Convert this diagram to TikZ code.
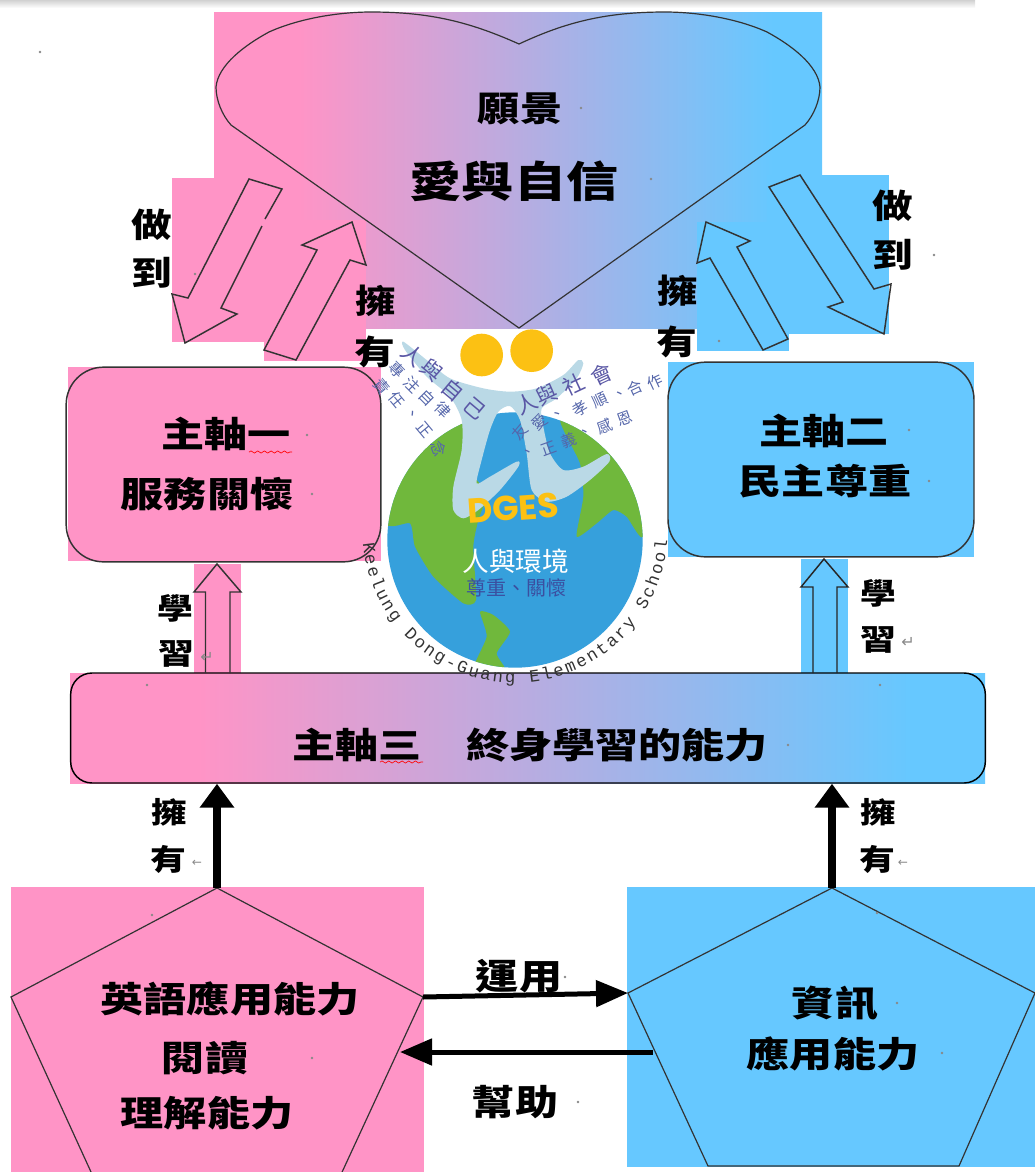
\documentclass[tikz,border=0pt]{standalone}
\usepackage{fontspec}
\usetikzlibrary{arrows.meta,decorations.text,decorations.pathmorphing,shadings}
\newfontfamily\tcr{Noto Sans CJK TC}
\newcommand\tcb{\tcr\bfseries}
\newfontfamily\monof{Liberation Mono}
\newfontfamily\popr{Poppins}
\newcommand\popb{\popr\bfseries}
\newfontfamily\djv{DejaVu Sans}
\definecolor{pk}{HTML}{FF94C6}
\definecolor{bl}{HTML}{66C8FF}
\definecolor{ln}{HTML}{333333}
\definecolor{earth}{HTML}{36A0DC}
\definecolor{land}{HTML}{70B83C}
\definecolor{person}{HTML}{BAD9E6}
\definecolor{gold}{HTML}{FCC113}
\definecolor{lgp}{HTML}{5A57A5}
\definecolor{lgb}{HTML}{5566AA}
\definecolor{lgd}{HTML}{3B4FA0}
\definecolor{mk}{HTML}{888888}
\pgfdeclarehorizontalshading{pkbl}{100bp}{color(0bp)=(pk); color(32bp)=(pk); color(71bp)=(bl); color(100bp)=(bl)}
\tikzset{
  lb/.style={inner sep=0pt,text=black,xscale=1.22,transform shape,font=\fontsize{#1pt}{#1pt}\tcb},
  outl/.style={draw=ln,line width=1.1pt,line join=miter},
  vthick/.style={line width=6pt,-{Triangle[length=18pt,width=25pt]},black},
  hthick/.style={line width=3.75pt,-{Triangle[length=24pt,width=19.5pt]},black},
  edmark/.style={inner sep=0pt,text=mk,font=\fontsize{12pt}{12pt}\djv},
  lgA/.style={inner sep=0pt,text=lgp,font=\fontsize{16pt}{16pt}\tcr},
  lgB/.style={inner sep=0pt,text=lgb,font=\fontsize{11.5pt}{11.5pt}\tcr},
  wav/.style={draw=red,line width=.5pt,decorate,decoration={snake,segment length=5pt,amplitude=.8pt}},
}
\begin{document}
\begin{tikzpicture}[x=.75pt,y=-.75pt]
\useasboundingbox (0,0) rectangle (1035,1172);
\begin{scope}
\clip (0,0) rectangle (1035,1172);
% top shadow
\shade[top color=black!18,bottom color=white] (0,0) rectangle (975,8);
% backgrounds
\fill[shading=pkbl] (214,12) rectangle (822,328);
\fill[pk] (172,178) rectangle (297,342);
\fill[pk] (264,220) rectangle (366,361);
\fill[bl] (697,222) rectangle (789,351);
\fill[bl] (767,175) rectangle (889,334);
\fill[pk] (68,367) rectangle (381,561);
\fill[bl] (668,362) rectangle (974,557);
\fill[pk] (194,564) rectangle (241,673);
\fill[bl] (801,559) rectangle (848,673);
\fill[shading=pkbl] (70,673) rectangle (985,783);
\fill[pk] (11,887) rectangle (424,1172);
\fill[bl] (627,887) rectangle (1035,1167);
% heart
\draw[draw=ln,line width=.9pt] (519,328) -- (231,125)
  .. controls (222,115) and (216,100) .. (216,87)
  .. controls (218,65) and (245,45) .. (269,32)
  .. controls (300,18) and (340,12) .. (371,12)
  .. controls (430,12) and (470,22) .. (519,44)
  .. controls (566,22) and (606,12) .. (665,12)
  .. controls (696,12) and (736,18) .. (767,32)
  .. controls (791,45) and (818,65) .. (820,87)
  .. controls (820,100) and (814,115) .. (805,125) -- cycle;
% diagonal outline arrows
\draw[outl] (265,219) -- (282,189) -- (249,179) -- (188,298) -- (172,294) -- (185,343) -- (237,314) -- (221,308) -- (262,226);
\draw[outl] (264,350) -- (296,360) -- (350,260) -- (366,265) -- (352,222) -- (302,245) -- (317,250) -- cycle;
\draw[outl] (763,350) -- (788,339) -- (737,247) -- (750,241) -- (706,222) -- (697,263) -- (710,258) -- cycle;
\draw[outl] (769,187) -- (800,175) -- (874,289) -- (891,284) -- (884,334) -- (828,307) -- (843,302) -- cycle;
% main boxes
\node[draw=ln,line width=1.1pt,rounded corners=28pt,minimum width=236pt,minimum height=146pt,inner sep=0pt] (axisA) at (223.5,464.5) {};
\node[draw=ln,line width=1.1pt,rounded corners=28pt,minimum width=229.5pt,minimum height=146pt,inner sep=0pt] (axisB) at (821,459.5) {};
\node[draw=black,line width=1.1pt,rounded corners=16pt,minimum width=686pt,minimum height=82.5pt,inner sep=0pt] (axisC) at (528,728) {};
% study arrows
\draw[outl] (205.5,673) -- (205.5,592) -- (194,592) -- (217,564) -- (241,592) -- (230,592) -- (230,673);
\draw[outl,draw=black!85] (813,673) -- (813,587) -- (801,587) -- (824,559) -- (848,587) -- (837,587) -- (837,673);
% pentagons
\coordinate (pkTop) at (217,888);
\coordinate (pkR) at (423,997);
\coordinate (pkH) at (400,1052);
\coordinate (blTop) at (832,888);
\coordinate (blL) at (628,993);
\coordinate (blH) at (653,1052);
\draw[draw=ln,line width=.9pt] (pkTop) -- (pkR) -- (331,1196) -- (102,1196) -- (11,997) -- cycle;
\draw[draw=ln,line width=.9pt] (blTop) -- (1035,993) -- (959,1166) -- (708,1166) -- (blL) -- cycle;
% connectors
\draw[vthick] (pkTop) -- (pkTop |- axisC.south);
\draw[vthick] (blTop) -- (blTop |- axisC.south);
\draw[hthick] (pkR) -- (blL);
\draw[hthick] (blH) -- (pkH);
% LOGO
\begin{scope}[shift={(350,320)},x=.25pt,y=-.25pt]
  \fill[earth] (495,660) circle[radius=383];
  \begin{scope}
    \clip (495,660) circle[radius=383];
    \fill[land] plot[smooth cycle,tension=.35] coordinates {(100,600)(180,610)(195,680)(250,770)(340,850)(378,840)(370,680)(385,600)(410,520)(360,450)(345,300)(100,200)};
    \fill[land] plot[smooth cycle,tension=.35] coordinates {(630,300)(690,430)(700,530)(680,650)(740,610)(790,570)(830,590)(880,650)(900,400)(700,250)};
    \fill[land] plot[smooth cycle,tension=.35] coordinates {(390,875)(430,885)(480,935)(440,1000)(465,1050)(370,1050)(410,950)};
  \end{scope}
  \fill[person] plot[smooth cycle,tension=.45] coordinates {(160,65)(230,120)(300,175)(400,205)(480,215)(560,205)(640,165)(685,120)(700,130)(680,175)(620,235)(575,265)(580,320)(600,400)(640,450)(700,440)(770,402)(778,425)(720,480)(650,530)(590,545)(545,510)(530,400)(510,300)(480,258)(445,275)(420,330)(395,420)(380,490)(420,470)(500,425)(505,440)(450,510)(385,570)(340,595)(310,570)(310,500)(335,390)(335,300)(300,230)(230,170)(165,90)};
  \fill[gold] (395,105) circle[radius=64];
  \fill[gold] (545,92) circle[radius=64];
  \node[inner sep=0pt,text=gold,rotate=4,font=\fontsize{26pt}{26pt}\popb] (dges) at (490,565) {DGES};
  \foreach \ch/\X/\Y/\R [count=\i] in {人/190/105/-40,與/245/150/-40,自/310/210/-40,己/375/265/-40,人/530/250/25,與/590/225/25,社/670/195/25,會/755/165/25}
    {\node[lgA,rotate=\R] (lgA\i) at (\X,\Y) {\ch};}
  \foreach \ch/\X/\Y/\R [count=\i] in {專/140/150/-45,注/185/195/-45,自/232/232/-45,律/278/270/-45,責/95/200/-50,任/140/240/-50,、/185/285/-50,正/225/330/-50,念/268/385/-70,友/510/335/50,愛/570/305/40,、/625/285/30,孝/690/265/30,順/750/240/25,、/810/225/20,合/855/205/25,作/915/185/25,、/535/400/20,正/595/385/20,義/655/360/20,、/705/340/20,感/765/320/20,恩/825/295/20}
    {\node[lgB,rotate=\R] (lgB\i) at (\X,\Y) {\ch};}
  \node[inner sep=0pt,text=white,font=\fontsize{20pt}{20pt}\tcr] (env) at (497,725) {人與環境};
  \node[inner sep=0pt,text=lgd,font=\fontsize{15pt}{15pt}\tcr] (envb) at (500,805) {尊重、關懷};
  \coordinate (ringc) at (495,630);
  \path[postaction={decorate,decoration={text along path,text align={fit to path},text={|\fontsize{13pt}{13pt}\monof\color{black!80}|Keelung Dong-Guang Elementary School}}}]
    (ringc) ++(185:114.5pt) arc[start angle=185,delta angle=171,radius=114.5pt];
\end{scope}
% labels
\node[lb=26] (t1) at (520,109) {願景};
\node[lb=32] (t2) at (514,181) {愛與自信};
\node[lb=25] (do1) at (152,225) {做};
\node[lb=25] (do2) at (152,273) {到};
\node[lb=25] (yo1) at (376,301) {擁};
\node[lb=25] (yo2) at (375,352) {有};
\node[lb=25] (do3) at (893,206) {做};
\node[lb=25] (do4) at (893,255) {到};
\node[lb=25] (yo3) at (678,291) {擁};
\node[lb=25] (yo4) at (677,342) {有};
\node[lb=26.5] (a1) at (226,434) {主軸一};
\node[lb=26.5] (a2) at (207,494) {服務關懷};
\node[lb=26.5] (b1) at (824,431) {主軸二};
\node[lb=26.5] (b2) at (825,481) {民主尊重};
\node[lb=22] (s1) at (175,608) {學};
\node[lb=22] (s2) at (176,654) {習};
\node[lb=22] (s3) at (878,593) {學};
\node[lb=22] (s4) at (878,640) {習};
\node[lb=26.5] (c1) at (357,745) {主軸三};
\node[lb=26.5] (c2) at (617,745) {終身學習的能力};
\node[lb=22] (h1) at (169,812) {擁};
\node[lb=22] (h2) at (168,859) {有};
\node[lb=22] (h3) at (878,812) {擁};
\node[lb=22] (h4) at (877,859) {有};
\node[lb=26.5] (e1) at (230,999) {英語應用能力};
\node[lb=26.5] (e2) at (205,1058) {閱讀};
\node[lb=26.5] (e3) at (207,1113) {理解能力};
\node[lb=26.5] (u1) at (519,976) {運用};
\node[lb=26.5] (u2) at (515,1102) {幫助};
\node[lb=26.5] (i1) at (835,1003) {資訊};
\node[lb=26.5] (i2) at (833,1054) {應用能力};
% red wavy underlines
\draw[wav] (249,452) -- (292,452);
\draw[wav] (380,762) -- (423,762);
% editing marks
\node[edmark] (m1) at (207,657) {↵};
\node[edmark] (m2) at (908,642) {↵};
\node[edmark,font=\fontsize{9pt}{9pt}\djv] (m3) at (197,863) {←};
\node[edmark,font=\fontsize{9pt}{9pt}\djv] (m4) at (903,863) {←};
\foreach \X/\Y in {581/108,651/179,307/435,312/494,909/430,929/481,788/745,880/685,147/685,152/915,312/1058,565/977,578/1102,897/1003,942/1053,877/913,40/52,934/255,195/274,719/341}
  {\fill[mk] (\X,\Y) circle[radius=1.3];}
\end{scope}
\end{tikzpicture}
\end{document}
